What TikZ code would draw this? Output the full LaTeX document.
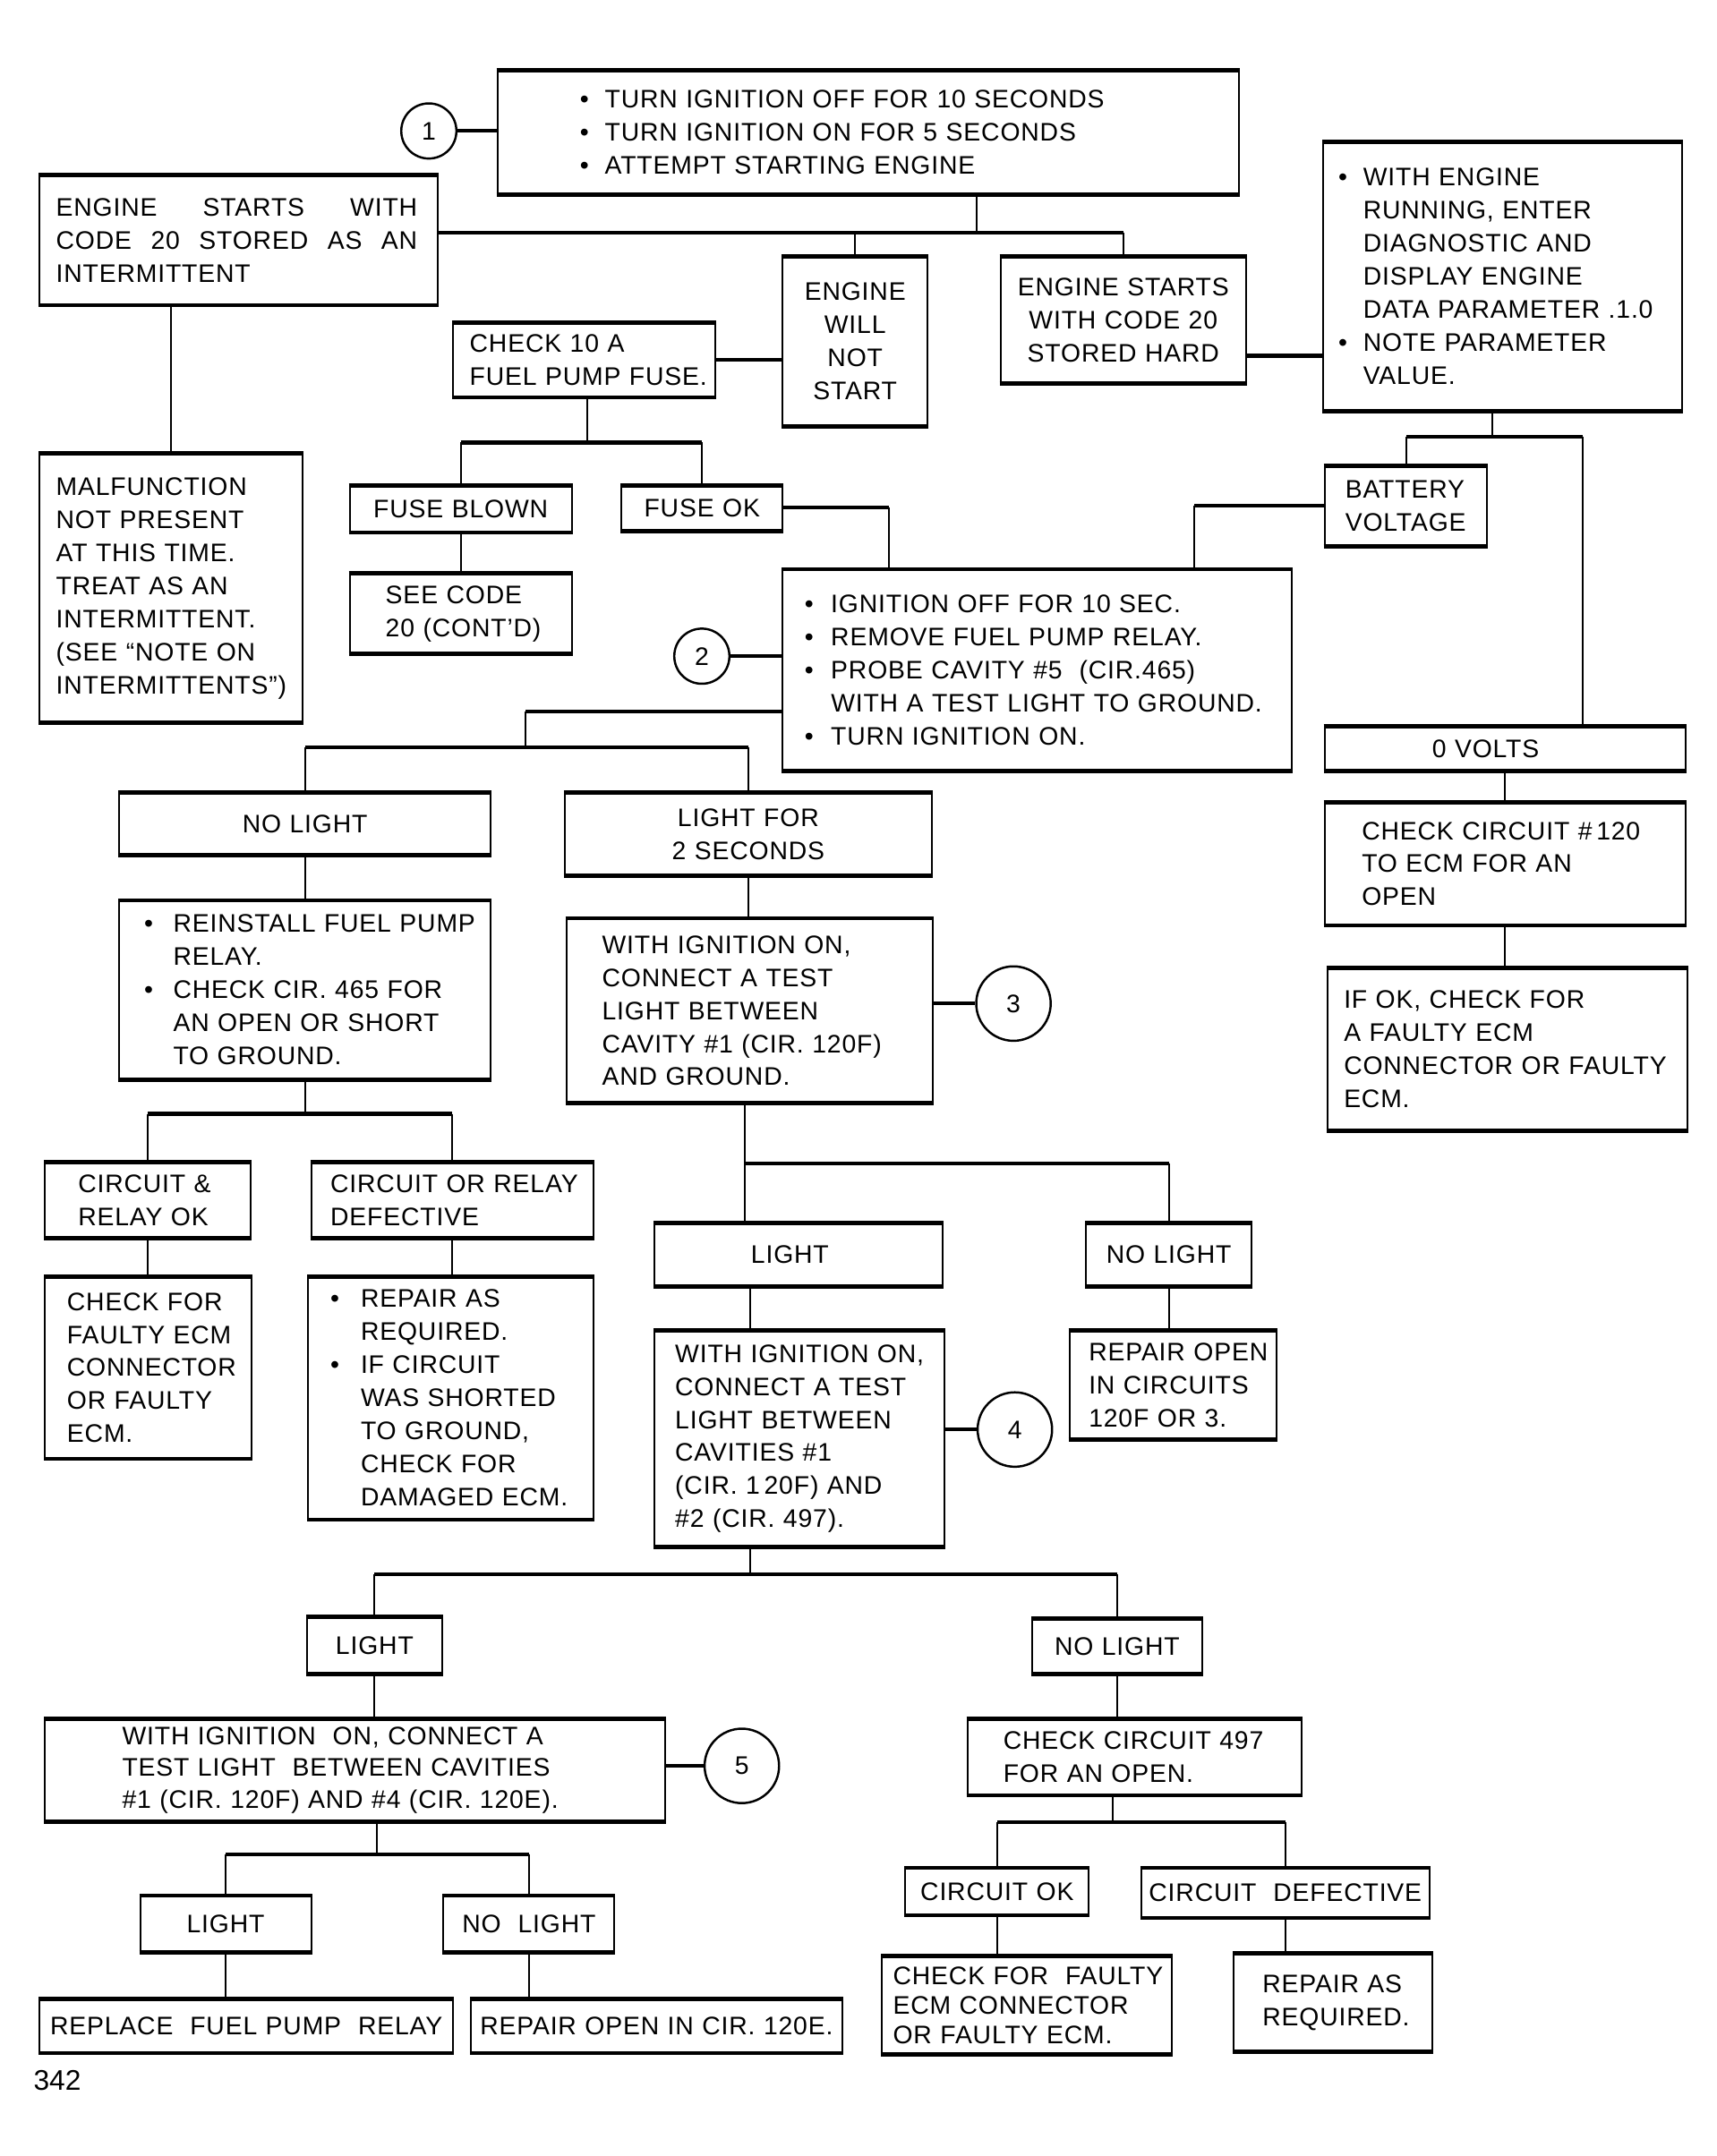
\documentclass[tikz,border=0pt]{standalone}
\usepackage{fontspec}
\setmainfont{Liberation Sans}[LetterSpace=3]
\newfontfamily\pgnum{Liberation Sans}
\newcommand\bul[1][9pt]{\makebox[#1][l]{\textbullet}}
\newcommand\ind[1][9pt]{\hspace*{#1}}
\tikzset{
 box/.style={draw,line width=0.65pt,inner ysep=0pt,font=\fontsize{9.2pt}{12pt}\selectfont},
 circ/.style={circle,draw,line width=0.8pt,inner sep=0pt,font=\fontsize{9.2pt}{12pt}\selectfont},
 hw/.style={line width=1.4pt},
 vw/.style={line width=0.65pt},
 edgeline/.style={line width=1.5pt}
}
\newcommand\bx[7]{%
 \pgfmathsetmacro\bxw{(#4-#2)*0.5}\pgfmathsetmacro\bxh{(#5-#3)*0.5}\pgfmathsetmacro\bxp{#6*0.5}%
 \node[box,align=left,anchor=north west,minimum width=\bxw pt,minimum height=\bxh pt,text width=\bxw pt,inner xsep=0pt] (#1) at (#2,#3) {\leftskip=\bxp pt\rightskip=-40pt plus 1fil\relax #7\par};}
\newcommand\cbx[6]{%
 \pgfmathsetmacro\bxw{(#4-#2)*0.5}\pgfmathsetmacro\bxh{(#5-#3)*0.5}%
 \node[box,align=center,anchor=north west,minimum width=\bxw pt,minimum height=\bxh pt,text width=\bxw pt,inner xsep=0pt] (#1) at (#2,#3) {\leftskip=-20pt plus 1fil\rightskip=-20pt plus 1fil\relax #6\par};}
\begin{document}
\begin{tikzpicture}[x=0.5pt,y=-0.5pt]
\useasboundingbox (0,0) rectangle (1245,1564);
\fill[white] (0,0) rectangle (1245,1564);
% boxes
\bx{T1}{360}{51}{898}{140}{60}{\bul TURN IGNITION OFF FOR 10 SECONDS\\\bul TURN IGNITION ON FOR 5 SECONDS\\\bul ATTEMPT STARTING ENGINE}
\node[circ,minimum size=20pt] (c1) at (311,95) {1};
\bx{A}{28}{127}{317}{220}{12}{\rightskip=7.5pt plus 1fil\relax ENGINE\hfill STARTS\hfill WITH\\CODE\hfill 20\hfill STORED\hfill AS\hfill AN\\INTERMITTENT}
\cbx{B}{567}{186}{672}{308}{ENGINE\\WILL\\NOT\\START}
\cbx{C}{725}{186}{903}{277}{ENGINE STARTS\\WITH CODE 20\\STORED HARD}
\bx{D}{959}{103}{1219}{297}{11}{\bul WITH ENGINE\\\ind RUNNING, ENTER\\\ind DIAGNOSTIC AND\\\ind DISPLAY ENGINE\\\ind DATA PARAMETER .1.0\\\bul NOTE PARAMETER\\\ind VALUE.}
\bx{E}{328}{234}{518}{287}{12}{CHECK 10 A\\FUEL PUMP FUSE.}
\bx{F}{28}{329}{219}{523}{12}{MALFUNCTION\\NOT PRESENT\\AT THIS TIME.\\TREAT AS AN\\INTERMITTENT.\\(SEE “NOTE ON\\INTERMITTENTS”)}
\cbx{FB}{253}{352}{414}{385}{FUSE BLOWN}
\cbx{FO}{450}{352}{567}{384}{FUSE OK}
\bx{SC}{253}{416}{414}{473}{26}{SEE CODE\\20 (CONT’D)}
\bx{G}{567}{413}{936}{558}{16}{\bul[9.5pt]IGNITION OFF FOR 10 SEC.\\\bul[9.5pt]REMOVE FUEL PUMP RELAY.\\\bul[9.5pt]PROBE CAVITY \#5\ \ (CIR.465)\\\ind[9.5pt]WITH A TEST LIGHT TO GROUND.\\\bul[9.5pt]TURN IGNITION ON.}
\node[circ,minimum size=20pt] (c2) at (509,476) {2};
\bx{BV}{960}{338}{1078}{395}{15}{BATTERY\\VOLTAGE}
\bx{OV}{960}{527}{1222}{558}{78}{0 VOLTS}
\cbx{NL1}{86}{575}{355}{619}{NO LIGHT}
\cbx{L2S}{409}{575}{675}{634}{LIGHT FOR\\2 SECONDS}
\bx{CC120}{960}{582}{1222}{670}{27}{CHECK CIRCUIT \#\,120\\TO ECM FOR AN\\OPEN}
\bx{IFOK}{962}{702}{1223}{819}{12}{IF OK, CHECK FOR\\A FAULTY ECM\\CONNECTOR OR FAULTY\\ECM.}
\bx{RFP}{86}{653}{355}{782}{18}{\bul[10.5pt]REINSTALL FUEL PUMP\\\ind[10.5pt]RELAY.\\\bul[10.5pt]CHECK CIR. 465 FOR\\\ind[10.5pt]AN OPEN OR SHORT\\\ind[10.5pt]TO GROUND.}
\bx{WIT3}{410}{666}{676}{799}{26}{WITH IGNITION ON,\\CONNECT A TEST\\LIGHT BETWEEN\\CAVITY \#1 (CIR. 120F)\\AND GROUND.}
\node[circ,minimum size=27pt] (c3) at (735,728) {3};
\bx{CROK}{32}{843}{181}{897}{24}{CIRCUIT \&\\RELAY OK}
\bx{CRD}{225}{843}{430}{897}{14}{CIRCUIT OR RELAY\\DEFECTIVE}
\bx{CF}{32}{926}{182}{1057}{16}{CHECK FOR\\FAULTY ECM\\CONNECTOR\\OR FAULTY\\ECM.}
\bx{RA}{223}{926}{430}{1101}{16}{\bul[11pt]REPAIR AS\\\ind[11pt]REQUIRED.\\\bul[11pt]IF CIRCUIT\\\ind[11pt]WAS SHORTED\\\ind[11pt]TO GROUND,\\\ind[11pt]CHECK FOR\\\ind[11pt]DAMAGED ECM.}
\bx{La}{474}{887}{683}{932}{70}{LIGHT}
\cbx{NLa}{787}{887}{907}{932}{NO LIGHT}
\bx{W4}{474}{965}{684}{1121}{15}{WITH IGNITION ON,\\CONNECT A TEST\\LIGHT BETWEEN\\CAVITIES \#1\\(CIR. 1\,20F) AND\\\#2 (CIR. 497).}
\node[circ,minimum size=27pt] (c4) at (736,1037) {4};
\bx{RO}{775}{965}{925}{1043}{14}{REPAIR OPEN\\IN CIRCUITS\\120F OR 3.}
\cbx{Lb}{222}{1173}{320}{1213}{LIGHT}
\cbx{NLb}{748}{1174}{871}{1213}{NO LIGHT}
\bx{W5}{32}{1247}{482}{1320}{56}{\baselineskip=11.5pt WITH IGNITION\ \ ON, CONNECT A\\TEST LIGHT\ \ BETWEEN CAVITIES\\\#1 (CIR. 120F) AND \#4 (CIR. 120E).}
\node[circ,minimum size=27pt] (c5) at (538,1281) {5};
\bx{CC497}{701}{1247}{943}{1301}{26}{CHECK CIRCUIT 497\\FOR AN OPEN.}
\cbx{COK}{656}{1355}{789}{1388}{CIRCUIT OK}
\cbx{CDEF}{827}{1355}{1036}{1390}{CIRCUIT\ \ DEFECTIVE}
\cbx{Lc}{101}{1375}{225}{1415}{LIGHT}
\cbx{NLc}{321}{1375}{445}{1415}{NO\ \ LIGHT}
\cbx{REP}{28}{1450}{328}{1488}{REPLACE\ \ FUEL PUMP\ \ RELAY}
\cbx{ROE}{341}{1450}{610}{1488}{REPAIR OPEN IN CIR. 120E.}
\bx{CFF}{639}{1419}{849}{1489}{8}{\baselineskip=10.8pt CHECK FOR\ \ FAULTY\\ECM CONNECTOR\\OR FAULTY ECM.}
\bx{RAS}{894}{1417}{1038}{1487}{21}{REPAIR AS\\REQUIRED.}
\node[anchor=west,inner sep=0pt,font=\pgnum\fontsize{10.3pt}{12pt}\selectfont] (pg) at (24,1509) {342};
% thick top and bottom edges
\foreach \n in {T1,A,B,C,D,E,F,FB,FO,SC,G,BV,OV,NL1,L2S,CC120,IFOK,RFP,WIT3,CROK,CRD,CF,RA,La,NLa,W4,RO,Lb,NLb,W5,CC497,COK,CDEF,Lc,NLc,REP,ROE,CFF,RAS}{
 \draw[edgeline] (\n.north west) -- (\n.north east);
 \draw[edgeline] (\n.south west) -- (\n.south east);
}
% connectors
\coordinate (j1) at (708,169);
\draw[vw] (j1 |- T1.south) -- (j1);
\draw[hw] (A.east |- j1) -- (j1 -| C.north);
\draw[vw] (j1 -| B.north) -- (B.north);
\draw[vw] (j1 -| C.north) -- (C.north);
\draw[hw] (c1.east) -- (c1.east -| T1.west);
\coordinate (jcd) at (930,258);
\draw[hw] (C.east |- jcd) -- (jcd -| D.west);
\draw[hw] (E.east) -- (E.east -| B.west);
\draw[vw] (F.north |- A.south) -- (F.north);
\coordinate (j2) at (426,321);
\draw[vw] (j2 |- E.south) -- (j2);
\draw[hw] (FB.north |- j2) -- (FO.north |- j2);
\draw[vw] (FB.north |- j2) -- (FB.north);
\draw[vw] (FO.north |- j2) -- (FO.north);
\draw[vw] (FB.south) -- (FB.south |- SC.north);
\coordinate (j3) at (645,368);
\draw[hw] (FO.east |- j3) -- (j3);
\draw[vw] (j3) -- (j3 |- G.north);
\coordinate (j4) at (1082,317);
\coordinate (j5) at (1148,317);
\draw[vw] (j4 |- D.south) -- (j4);
\draw[hw] (BV.north |- j4) -- (j5);
\draw[vw] (BV.north |- j4) -- (BV.north);
\draw[vw] (j5) -- (j5 |- OV.north);
\coordinate (j6) at (866,367);
\draw[hw] (BV.west |- j6) -- (j6);
\draw[vw] (j6) -- (j6 |- G.north);
\draw[hw] (c2.east) -- (c2.east -| G.west);
\coordinate (j7) at (381,516);
\coordinate (j8) at (381,542);
\draw[hw] (G.west |- j7) -- (j7);
\draw[vw] (j7) -- (j8);
\draw[hw] (NL1.north |- j8) -- (L2S.north |- j8);
\draw[vw] (NL1.north |- j8) -- (NL1.north);
\draw[vw] (L2S.north |- j8) -- (L2S.north);
\draw[vw] (OV.south) -- (OV.south |- CC120.north);
\draw[vw] (CC120.south) -- (CC120.south |- IFOK.north);
\draw[vw] (NL1.south) -- (NL1.south |- RFP.north);
\draw[vw] (L2S.south) -- (L2S.south |- WIT3.north);
\draw[hw] (c3.west -| WIT3.east) -- (c3.west);
\coordinate (j9) at (220,808);
\draw[vw] (RFP.south) -- (RFP.south |- j9);
\draw[hw] (CROK.north |- j9) -- (CRD.north |- j9);
\draw[vw] (CROK.north |- j9) -- (CROK.north);
\draw[vw] (CRD.north |- j9) -- (CRD.north);
\draw[vw] (CROK.south) -- (CROK.south |- CF.north);
\draw[vw] (CRD.south) -- (CRD.south |- RA.north);
\coordinate (j10) at (540,844);
\draw[vw] (j10 |- WIT3.south) -- (j10);
\draw[hw] (j10) -- (j10 -| NLa.north);
\draw[vw] (j10) -- (j10 |- La.north);
\draw[vw] (j10 -| NLa.north) -- (NLa.north);
\coordinate (j11) at (544,1142);
\draw[vw] (j11 |- La.south) -- (j11 |- W4.north);
\draw[vw] (NLa.south) -- (NLa.south |- RO.north);
\draw[hw] (c4.west -| W4.east) -- (c4.west);
\draw[vw] (j11 |- W4.south) -- (j11);
\draw[hw] (Lb.north |- j11) -- (NLb.north |- j11);
\draw[vw] (Lb.north |- j11) -- (Lb.north);
\draw[vw] (NLb.north |- j11) -- (NLb.north);
\draw[vw] (Lb.south) -- (Lb.south |- W5.north);
\draw[hw] (c5.west -| W5.east) -- (c5.west);
\draw[vw] (NLb.south) -- (NLb.south |- CC497.north);
\coordinate (j12) at (807,1322);
\draw[vw] (j12 |- CC497.south) -- (j12);
\draw[hw] (COK.north |- j12) -- (CDEF.north |- j12);
\draw[vw] (COK.north |- j12) -- (COK.north);
\draw[vw] (CDEF.north |- j12) -- (CDEF.north);
\coordinate (j13) at (273,1345);
\draw[vw] (j13 |- W5.south) -- (j13);
\draw[hw] (Lc.north |- j13) -- (NLc.north |- j13);
\draw[vw] (Lc.north |- j13) -- (Lc.north);
\draw[vw] (NLc.north |- j13) -- (NLc.north);
\draw[vw] (Lc.south) -- (Lc.south |- REP.north);
\draw[vw] (NLc.south) -- (NLc.south |- ROE.north);
\draw[vw] (COK.south) -- (COK.south |- CFF.north);
\draw[vw] (CDEF.south) -- (CDEF.south |- RAS.north);
\end{tikzpicture}
\end{document}
